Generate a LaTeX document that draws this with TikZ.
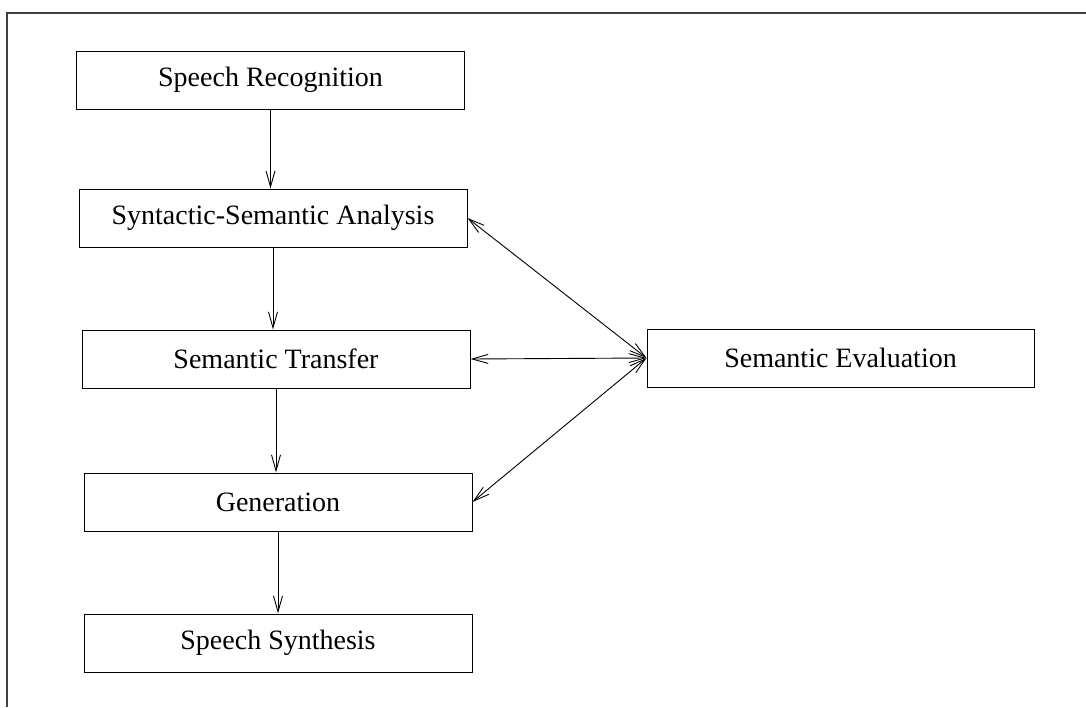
\documentclass[tikz,border=0pt]{standalone}
\usepackage{fontspec}
\setmainfont{Liberation Serif}
\usetikzlibrary{arrows.meta}
\begin{document}
\begin{tikzpicture}[x=1pt,y=-1pt,
  box/.style={draw=black, line width=1pt, minimum width=388pt, minimum height=58pt,
    inner sep=0pt, font=\fontsize{28}{34}\selectfont},
  arr/.style={line width=0.9pt, -{Straight Barb[length=16pt,width=9pt,line width=0.9pt]}},
  dbl/.style={line width=0.9pt, {Straight Barb[length=16pt,width=9pt,line width=0.9pt]}-{Straight Barb[length=16pt,width=9pt,line width=0.9pt]}}]
\useasboundingbox (0,0) rectangle (1086,707);
\draw[line width=1.4pt, black!75] (7,707) -- (7,13) -- (1086,13);
\node[box] (sr)  at (270.5,80)  {Speech Recognition};
\node[box] (ssa) at (273,218)   {Syntactic-Semantic Analysis};
\node[box] (st)  at (276,359)   {Semantic Transfer};
\node[box] (gen) at (278,502)   {Generation};
\node[box] (ss)  at (278,643)   {Speech Synthesis};
\node[box, minimum width=387pt] (se) at (840.5,358) {Semantic Evaluation};
\draw[arr] (sr.south) -- (sr.south |- ssa.north);
\draw[arr] (ssa.south) -- (ssa.south |- st.north);
\draw[arr] (st.south) -- (st.south |- gen.north);
\draw[arr] (gen.south) -- (gen.south |- ss.north);
\draw[dbl] (ssa.east) -- (se.west);
\draw[dbl] (st.east) -- (se.west);
\draw[dbl] (gen.east) -- (se.west);
\end{tikzpicture}
\end{document}
